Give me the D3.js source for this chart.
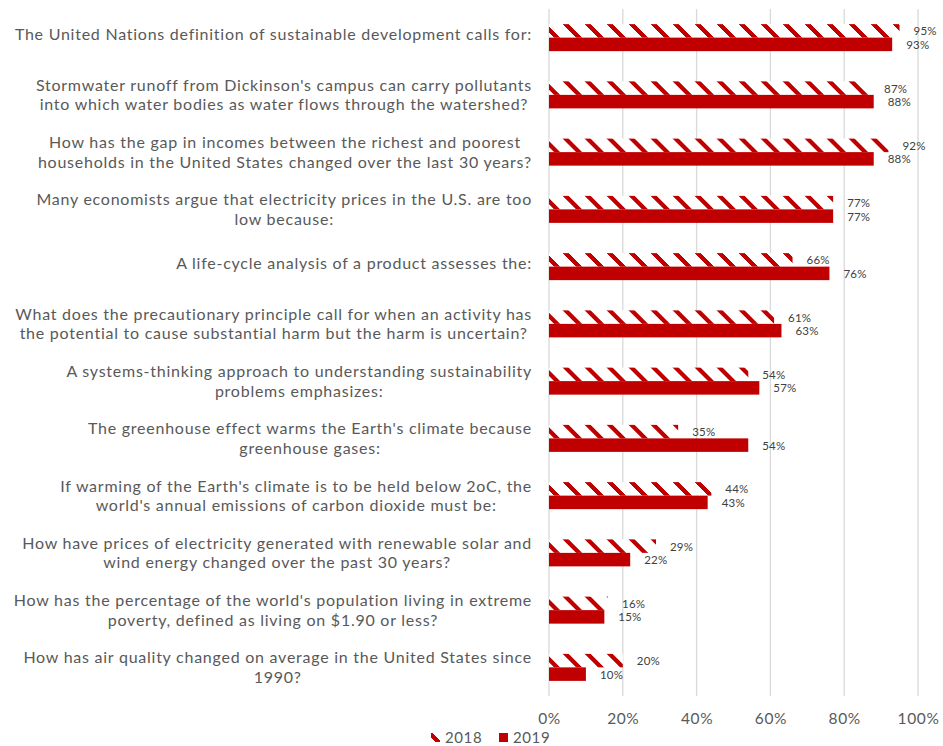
<!DOCTYPE html>
<html>
<head>
<meta charset="utf-8">
<script src="https://cdn.jsdelivr.net/npm/d3@7/dist/d3.min.js"></script>
<style>
  html, body { margin: 0; padding: 0; background: #fff; }
  svg { display: block; font-family: Lato, "Open Sans", sans-serif; }
</style>
</head>
<body>
<svg id="chart" width="943" height="746"></svg>
<script>
// Survey questions (top to bottom), each split into its display lines
const questions = [
  ["The United Nations definition of sustainable development calls for:"],
  ["Stormwater runoff from Dickinson's campus can carry pollutants", "into which water bodies as water flows through the watershed?"],
  ["How has the gap in incomes between the richest and poorest", "households in the United States changed over the last 30 years?"],
  ["Many economists argue that electricity prices in the U.S. are too", "low because:"],
  ["A life-cycle analysis of a product assesses the:"],
  ["What does the precautionary principle call for when an activity has", "the potential to cause substantial harm but the harm is uncertain?"],
  ["A systems-thinking approach to understanding sustainability", "problems emphasizes:"],
  ["The greenhouse effect warms the Earth's climate because", "greenhouse gases:"],
  ["If warming of the Earth's climate is to be held below 2oC, the", "world's annual emissions of carbon dioxide must be:"],
  ["How have prices of electricity generated with renewable solar and", "wind energy changed over the past 30 years?"],
  ["How has the percentage of the world's population living in extreme", "poverty, defined as living on $1.90 or less?"],
  ["How has air quality changed on average in the United States since", "1990?"]
];

// Share of correct answers per year
const years = ["2018", "2019"];
const correct2018 = [0.95, 0.87, 0.92, 0.77, 0.66, 0.61, 0.54, 0.35, 0.44, 0.29, 0.16, 0.20];
const correct2019 = [0.93, 0.88, 0.88, 0.77, 0.76, 0.63, 0.57, 0.54, 0.43, 0.22, 0.15, 0.10];

const xTicks = [0, 0.2, 0.4, 0.6, 0.8, 1.0];

const RED = "#C00000";
const svg = d3.select("#chart");

// Wide downward-diagonal hatch for the 2018 series
const defs = svg.append("defs");
function addHatch(id, ox, oy) {
  const p = defs.append("pattern")
    .attr("id", id)
    .attr("patternUnits", "userSpaceOnUse")
    .attr("width", 22).attr("height", 22)
    .attr("patternTransform", `translate(${ox},${oy})`);
  p.append("rect").attr("width", 22).attr("height", 22).attr("fill", "#fff");
  p.append("polygon").attr("points", "0,0 6.5,0 22,15.5 22,22").attr("fill", RED).attr("shape-rendering", "crispEdges");
  p.append("polygon").attr("points", "0,15.5 6.5,22 0,22").attr("fill", RED).attr("shape-rendering", "crispEdges");
}
addHatch("hatch", 548, 23);
addHatch("hatch2", 425, 732);

const rows = questions.map((q, i) => ({ i, lines: q, v2018: correct2018[i], v2019: correct2019[i] }));

const x = d3.scaleLinear().domain([0, 1]).range([549, 918]);
const y = d3.scaleBand().domain(d3.range(rows.length)).range([9, 696]).padding(0);
const ySeries = d3.scaleBand().domain(years).range([0, y.bandwidth()]).paddingInner(0).paddingOuter(1.12);

// Vertical gridlines
svg.append("g")
  .selectAll("line")
  .data(xTicks)
  .join("line")
  .attr("x1", d => x(d)).attr("x2", d => x(d))
  .attr("y1", 9).attr("y2", 696)
  .attr("stroke", "#d9d9d9").attr("stroke-width", 1.3);

// X axis tick labels
const xAxis = d3.axisBottom(x).tickValues(xTicks).tickFormat(d3.format(".0%")).tickSize(0).tickPadding(0);
const axG = svg.append("g").attr("transform", "translate(0,713)").call(xAxis);
axG.select(".domain").remove();
axG.selectAll("text")
  .attr("font-family", "Lato, sans-serif")
  .attr("font-size", 15.5)
  .attr("letter-spacing", 0.6)
  .attr("fill", "#595959")
  .attr("dy", "0.71em");

// Bars
const rowG = svg.append("g").selectAll("g").data(rows).join("g")
  .attr("transform", d => `translate(0,${y(d.i)})`);

rowG.append("rect")
  .attr("x", x(0))
  .attr("y", ySeries("2018"))
  .attr("width", d => x(d.v2018) - x(0))
  .attr("height", ySeries.bandwidth())
  .attr("fill", "url(#hatch)");

rowG.append("rect")
  .attr("x", x(0))
  .attr("y", ySeries("2019"))
  .attr("width", d => x(d.v2019) - x(0))
  .attr("height", ySeries.bandwidth())
  .attr("fill", RED);

// Value labels
const fmt = d3.format(".0%");
[["2018", "v2018"], ["2019", "v2019"]].forEach(([yr, key]) => {
  rowG.append("text")
    .attr("x", d => x(d[key]) + 14)
    .attr("y", ySeries(yr) + ySeries.bandwidth() / 2)
    .attr("dominant-baseline", "central")
    .attr("font-size", 11.5)
    .attr("letter-spacing", 0.2)
    .attr("fill", "#404040")
    .text(d => fmt(d[key]));
});

// Category labels: lines centred within a block that is right-aligned
const labelRight = 532;
const labG = svg.append("g");
rows.forEach(d => {
  const cy = y(d.i) + y.bandwidth() / 2;
  const g = labG.append("g");
  const n = d.lines.length;
  const texts = d.lines.map((line, k) => g.append("text")
    .attr("y", n === 1 ? cy - 4 : cy - 10.5 + k * 19.5)
    .attr("dominant-baseline", "central")
    .attr("text-anchor", "middle")
    .attr("font-size", 16)
    .attr("letter-spacing", 0.75)
    .attr("fill", "#595959")
    .text(line));
  const w = d3.max(texts, t => t.node().getComputedTextLength());
  texts.forEach(t => t.attr("x", labelRight - w / 2));
});

// Legend
const leg = svg.append("g");
const legItems = [
  { yr: "2018", fill: "url(#hatch2)", sx: 431, tx: 445 },
  { yr: "2019", fill: RED, sx: 499, tx: 513 }
];
legItems.forEach(it => {
  leg.append("rect").attr("x", it.sx).attr("y", 733).attr("width", 9).attr("height", 9).attr("fill", it.fill);
  leg.append("text").attr("x", it.tx).attr("y", 742.5)
    .attr("font-size", 15).attr("letter-spacing", 0.6).attr("fill", "#595959").text(it.yr);
});
</script>
</body>
</html>
